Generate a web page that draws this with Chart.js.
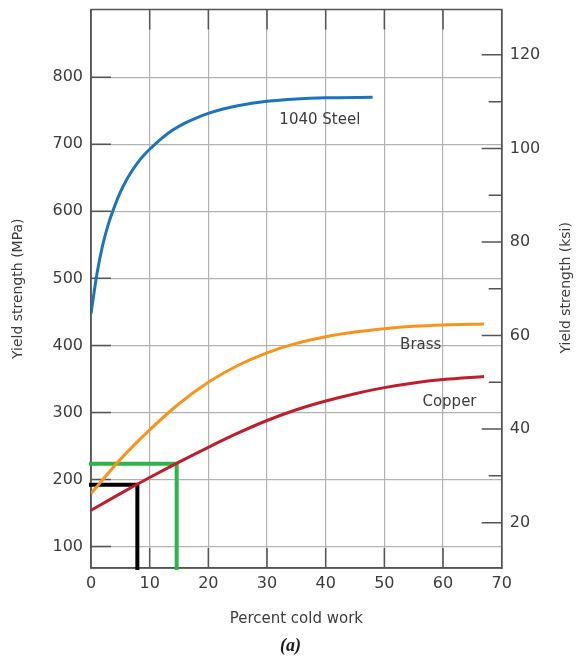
<!DOCTYPE html>
<html><head><meta charset="utf-8">
<script src="https://cdn.jsdelivr.net/npm/chart.js@4.4.1/dist/chart.umd.min.js"></script>
<style>html,body{margin:0;padding:0;background:#fff}#wrap{width:581px;height:659px}</style>
</head><body><div id="wrap"><canvas id="c" width="581" height="659"></canvas></div>
<script>
// ---- data ----
const steelPct  = [0, 1, 2, 3, 4, 5, 6, 7, 8, 9, 10, 12, 14, 16, 18, 20, 22.5, 25, 30, 35, 40, 48];
const steelMPa  = [447, 506, 550, 582, 607, 628.5, 646, 660.5, 673, 683.5, 692.5, 708.5, 721.5, 731.5, 739.5, 746, 752.5, 757.5, 764, 767.5, 769.3, 770];
const brassPct  = [0, 5, 10, 15, 20, 25, 30, 35, 40, 45, 50, 55, 60, 67];
const brassMPa  = [179, 230, 274, 313, 345, 370, 389, 403, 413, 420, 425, 428.5, 430.5, 432];
const copperPct = [0, 5, 10, 15, 20, 25, 30, 35, 40, 45, 50, 55, 60, 67];
const copperMPa = [154, 179, 203, 226, 248, 269, 288, 304, 317, 328, 337, 344, 349, 353.5];
const blackGuide = [7.9, 192];   // [percent cold work, MPa]
const greenGuide = [14.6, 223.6];
const xTicks   = [0, 10, 20, 30, 40, 50, 60, 70];
const mpaTicks = [100, 200, 300, 400, 500, 600, 700, 800];
const ksiMajor = [20, 40, 60, 80, 100, 120];
const ksiMinor = [30, 50, 70, 90, 110];
const xRange   = [0, 70];
const mpaRange = [68, 901];
const ksiRange = [10.3, 129.7];
const curveLabels = ['1040 Steel', 'Brass', 'Copper'];
const curveLabelPct = [39, 56.2, 61.1];
const curveLabelMPa = [736, 401, 315];

// ---- styling ----
const FONT = 'DejaVu Sans';
const TEXT = '#3c3c3c';
const GRID = '#b2b2b2';
const AXIS = '#555555';

const pts = (xs, ys) => xs.map((x, i) => ({x, y: ys[i]}));
const guide = g => [{x: xRange[0], y: g[1]}, {x: g[0], y: g[1]}, {x: g[0], y: mpaRange[0]}];

const deco = {
  id: 'deco',
  beforeDatasetsDraw(chart) {
    const {ctx, chartArea: a, scales: {x, y, y2}} = chart;
    ctx.save();
    ctx.strokeStyle = AXIS; ctx.lineWidth = 1.5;
    ctx.strokeRect(a.left, a.top, a.right - a.left, a.bottom - a.top);
    ctx.beginPath();
    xTicks.slice(1, -1).forEach(v => {
      const px = x.getPixelForValue(v);
      ctx.moveTo(px, a.bottom); ctx.lineTo(px, a.bottom - 20);
      ctx.moveTo(px, a.top); ctx.lineTo(px, a.top + 20);
    });
    mpaTicks.forEach(v => {
      const py = y.getPixelForValue(v);
      ctx.moveTo(a.left, py); ctx.lineTo(a.left + 20, py);
    });
    ksiMajor.forEach(v => {
      const py = y2.getPixelForValue(v);
      ctx.moveTo(a.right, py); ctx.lineTo(a.right - 20, py);
    });
    ksiMinor.forEach(v => {
      const py = y2.getPixelForValue(v);
      ctx.moveTo(a.right, py); ctx.lineTo(a.right - 13, py);
    });
    ctx.stroke();
    ctx.restore();
  },
  afterDraw(chart) {
    const {ctx, chartArea: a, scales: {x, y, y2}} = chart;
    ctx.save();
    ctx.fillStyle = TEXT;
    ctx.font = '15px "' + FONT + '"';
    ctx.textAlign = 'center'; ctx.textBaseline = 'middle';
    curveLabels.forEach((t, i) => {
      ctx.fillText(t, x.getPixelForValue(curveLabelPct[i]), y.getPixelForValue(curveLabelMPa[i]));
    });
    ctx.font = '14px "' + FONT + '"';
    ctx.translate(y2.right - 14.5, (a.top + a.bottom) / 2 - 1);
    ctx.rotate(-Math.PI / 2);
    ctx.fillText('Yield strength (ksi)', 0, 0);
    ctx.restore();
  }
};

const lineDs = (label, data, color, width) => ({
  label, data, borderColor: color, borderWidth: width, pointRadius: 0,
  fill: false, cubicInterpolationMode: 'monotone', yAxisID: 'y', xAxisID: 'x'
});

new Chart(document.getElementById('c'), {
  type: 'line',
  data: {datasets: [
    lineDs('1040 Steel', pts(steelPct, steelMPa), '#1c75bc', 3),
    lineDs('Brass', pts(brassPct, brassMPa), '#f7941d', 3),
    lineDs('Copper', pts(copperPct, copperMPa), '#be1e2d', 3),
    Object.assign(lineDs('guide black', guide(blackGuide), '#000000', 4), {cubicInterpolationMode: 'default', tension: 0, borderCapStyle: 'square', borderJoinStyle: 'miter', clip: 6}),
    Object.assign(lineDs('guide green', guide(greenGuide), '#2fb34a', 4), {cubicInterpolationMode: 'default', tension: 0, borderCapStyle: 'square', borderJoinStyle: 'miter', clip: 6})
  ]},
  options: {
    responsive: false, animation: false, devicePixelRatio: 1,
    layout: {padding: {top: 9.5, left: 0, right: 0, bottom: 0}},
    plugins: {
      legend: {display: false}, tooltip: {enabled: false},
      title: {display: true, text: '(a)', position: 'bottom', color: '#1a1a1a',
        font: {family: 'Liberation Serif', size: 18, style: 'italic', weight: 'bold'},
        padding: {top: 0, bottom: 2}}
    },
    scales: {
      x: {
        type: 'linear', position: 'bottom', min: xRange[0], max: xRange[1],
        afterBuildTicks: s => { s.ticks = xTicks.map(v => ({value: v})); },
        ticks: {font: {family: FONT, size: 16}, color: TEXT, padding: 6.4, maxRotation: 0, autoSkip: false},
        grid: {color: GRID, lineWidth: 1.2, drawTicks: false},
        border: {display: true, color: AXIS, width: 1.5},
        title: {display: true, text: 'Percent cold work', color: TEXT, font: {family: FONT, size: 15}, padding: {top: 0, bottom: 7}},
        afterFit: s => { s.height = 67.4; s.paddingLeft = 0; s.paddingRight = 0; }
      },
      y: {
        type: 'linear', position: 'left', min: mpaRange[0], max: mpaRange[1],
        afterBuildTicks: s => { s.ticks = mpaTicks.map(v => ({value: v})); },
        ticks: {font: {family: FONT, size: 16}, color: TEXT, padding: 8},
        grid: {color: GRID, lineWidth: 1.2, drawTicks: false},
        border: {display: true, color: AXIS, width: 1.5},
        title: {display: true, text: 'Yield strength (MPa)', color: TEXT, font: {family: FONT, size: 14}, padding: {top: 10, bottom: 0}},
        afterFit: s => { s.width = 91; s.paddingTop = 0; s.paddingBottom = 0; }
      },
      y2: {
        type: 'linear', position: 'right', min: ksiRange[0], max: ksiRange[1],
        afterBuildTicks: s => { s.ticks = ksiMajor.map(v => ({value: v})); },
        ticks: {font: {family: FONT, size: 16}, color: TEXT, padding: 8},
        grid: {drawOnChartArea: false, drawTicks: false},
        border: {display: true, color: AXIS, width: 1.5},
        afterFit: s => { s.width = 79.3; s.paddingTop = 0; s.paddingBottom = 0; }
      }
    }
  },
  plugins: [deco]
});
</script>
</body></html>
